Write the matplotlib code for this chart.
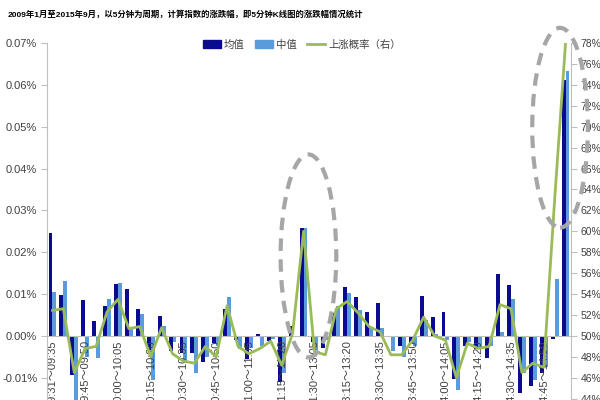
import matplotlib
matplotlib.use('Agg')
import matplotlib.pyplot as plt
from matplotlib.patches import Ellipse, Patch
from matplotlib.lines import Line2D
import numpy as np

plt.rcParams['font.family'] = ['Liberation Sans', 'Noto Sans CJK SC', 'DejaVu Sans']

# values in percent units (0.0246 means 0.0246%)
mean_vals = [0.0246, 0.0099, -0.0094, 0.0087, 0.0036, 0.0072, 0.0125, 0.0113,
             0.0065, -0.0034, 0.0048, -0.0037, -0.0040, -0.0041, -0.0063, -0.0016,
             0.0064, -0.0010, -0.0056, 0.0004, -0.0012, -0.0109, 0.0024, 0.0259,
             -0.0014, -0.0028, 0.0054, 0.0116, 0.0094, 0.0058, 0.0080, -0.0002,
             -0.0024, -0.0016, 0.0095, 0.0046, 0.0058, -0.0103, -0.0025, -0.0030,
             -0.0053, 0.0148, 0.0122, -0.0135, -0.0119, -0.0088, -0.0006, 0.0611]
median_vals = [0.0106, 0.0131, -0.0180, -0.0050, -0.0053, 0.0089, 0.0126, 0.0020,
               0.0053, -0.0104, 0.0023, -0.0015, -0.0060, -0.0089, -0.0049, -0.0025,
               0.0092, -0.0030, -0.0029, -0.0023, -0.0008, -0.0089, 0.0000, 0.0259,
               -0.0033, -0.0010, 0.0072, 0.0103, 0.0062, 0.0020, 0.0018, -0.0037,
               -0.0049, -0.0025, 0.0038, 0.0005, -0.0010, -0.0130, -0.0014, -0.0032,
               -0.0025, 0.0010, 0.0088, -0.0089, -0.0105, -0.0075, 0.0137, 0.0632]
up_prob = [52.45, 52.6, 46.5, 48.8, 49.0, 52.3, 53.5, 50.7,
           50.9, 48.0, 50.8, 48.3, 47.6, 47.4, 49.0, 48.0,
           52.9, 49.0, 48.3, 48.8, 49.5, 47.2, 50.25, 60.0,
           48.5, 48.2, 52.6, 53.3, 52.2, 50.9, 50.4, 48.2,
           48.2, 49.6, 51.8, 50.0, 49.6, 46.0, 49.3, 48.8,
           49.0, 53.0, 52.6, 46.5, 47.4, 47.0, 63.0, 78.0]
tick_idx = list(range(0, 48, 3))
tick_labels = ["09:31～09:35", "09:45～09:50", "10:00～10:05", "10:15～10:20",
               "10:30～10:35", "10:45～10:50", "11:00～11:05", "11:15～11:20",
               "11:30～13:05", "13:15～13:20", "13:30～13:35", "13:45～13:50",
               "14:00～14:05", "14:15～14:20", "14:30～14:35", "14:45～14:50"]
left_ticks = [-0.01, 0.0, 0.01, 0.02, 0.03, 0.04, 0.05, 0.06, 0.07]
right_ticks = list(range(44, 79, 2))

title = "2009年1月至2015年9月，以5分钟为周期，计算指数的涨跌幅，即5分钟K线图的涨跌幅情况统计"

dark = '#0B0B8F'
light = '#5A9BDB'
green = '#9BBB59'
grey = '#BFBFBF'
txt = '#404040'

fig = plt.figure(figsize=(6, 4), dpi=100)
ax = fig.add_axes([47/600, 0, 524/600, 357/400])
x = np.arange(len(mean_vals))
w = 0.36
ax.bar(x - w/2, mean_vals, w, color=dark, linewidth=0)
ax.bar(x + w/2, median_vals, w, color=light, linewidth=0)
ax.set_xlim(-0.5, len(mean_vals) - 0.5)
ax.set_ylim(-0.01529, 0.07)
ax.set_yticks(left_ticks)
ax.set_yticklabels([f'{v:.2f}%' for v in left_ticks], fontsize=8, color=txt)
ax.spines['bottom'].set_position(('data', 0))
ax.spines['bottom'].set_color(grey)
ax.spines['left'].set_color(grey)
ax.spines['top'].set_visible(False)
ax.spines['right'].set_visible(False)
ax.set_xticks(tick_idx)
ax.set_xticklabels(tick_labels, rotation=90, fontsize=8, color=txt, va='top', ha='center')
ax.tick_params(axis='x', length=0, pad=3)
ax.tick_params(axis='y', length=4, color=grey, pad=3)

ax2 = ax.twinx()
ax2.plot(x, up_prob, color=green, lw=2)
ax2.set_ylim(43.88, 78)
ax2.set_yticks(right_ticks)
ax2.set_yticklabels([f'{v}%' for v in right_ticks], fontsize=7.5, color=txt)
for s in ['top', 'bottom', 'left']:
    ax2.spines[s].set_visible(False)
ax2.spines['right'].set_color(grey)
ax2.tick_params(axis='y', length=4, color=grey, pad=3)

for cx, cy, ew, eh in [(23.45, 57.65, 5.1, 19.4), (46.5, 69.9, 5.1, 19.1)]:
    e = Ellipse((cx, cy), ew, eh, fill=False, edgecolor='#A6A6A6', lw=3,
                linestyle=(0, (3, 2)), clip_on=False, zorder=5)
    ax2.add_patch(e)

handles = [Patch(color=dark, label='均值'), Patch(color=light, label='中值'),
           Line2D([], [], color=green, lw=2, label='上涨概率（右）')]
fig.legend(handles=handles, loc='center', bbox_to_anchor=(302/600, 1 - 45/400), ncol=3,
           frameon=False, fontsize=7.5, handlelength=1.7, handleheight=0.8,
           columnspacing=1.0, handletextpad=0.3, labelcolor=txt)

fig.text(8/600, 1 - 15/400, title, fontsize=6.0, fontweight='bold', va='center', ha='left')

fig.savefig('out.png', dpi=100)
